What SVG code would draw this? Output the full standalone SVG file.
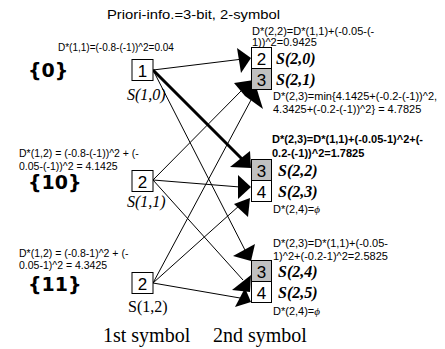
<svg xmlns="http://www.w3.org/2000/svg" width="445" height="349" viewBox="0 0 445 349">
<style>
.box{fill:#fff;stroke:#000;stroke-width:1}
.gray{fill:#c0c0c0;stroke:#000;stroke-width:1}
.dig{font-family:"Liberation Sans",Arial,sans-serif;font-size:17px;text-anchor:middle;fill:#000}
.sl{font-family:"Liberation Serif","Times New Roman",serif;font-size:16px;font-style:italic;fill:#000}
.sb{font-family:"Liberation Serif","Times New Roman",serif;font-size:16px;font-style:italic;font-weight:bold;fill:#000}
.sr{font-family:"Liberation Serif","Times New Roman",serif;font-size:16px;fill:#000}
.eq{font-family:"Liberation Sans",Arial,sans-serif;font-size:10px;fill:#000}
.eqr{font-family:"Liberation Sans",Arial,sans-serif;font-size:11px;fill:#000}
.eqb{font-family:"Liberation Sans",Arial,sans-serif;font-size:11px;font-weight:bold;fill:#000}
.set{font-family:"DejaVu Sans",Verdana,sans-serif;font-size:19px;font-weight:bold;fill:#000}
.ax{font-family:"Liberation Serif","Times New Roman",serif;font-size:20px;fill:#000}
.phi{font-family:"Liberation Serif","Times New Roman",serif;font-style:italic}
.ln{stroke:#000;stroke-width:1;fill:none}
.thick{stroke:#000;stroke-width:3;fill:none}
.ah{fill:#000;stroke:none}
</style>
<rect width="445" height="349" fill="#fff"/>
<text class="eq" x="107" y="19" style="font-size:13.5px" textLength="173" lengthAdjust="spacingAndGlyphs">Priori-info.=3-bit, 2-symbol</text>
<g id="connectors">
<line class="ln" x1="153" y1="70" x2="243" y2="59"/>
<line class="thick" x1="153" y1="70" x2="242" y2="159"/>
<line class="ln" x1="153" y1="70" x2="247" y2="254"/>
<line class="ln" x1="153" y1="180" x2="243" y2="89"/>
<line class="ln" x1="153" y1="180" x2="240" y2="187"/>
<line class="ln" x1="153" y1="180" x2="243" y2="280"/>
<line class="ln" x1="153" y1="283" x2="251" y2="100"/>
<line class="ln" x1="153" y1="283" x2="240" y2="205"/>
<line class="ln" x1="153" y1="283" x2="240" y2="298"/>
<polygon class="ah" points="237,48 251,58 241,73"/>
<polygon class="ah" points="234,83 254,80 263,109 245,96"/>
<polygon class="ah" points="230,167 250,151 251,168"/>
<polygon class="ah" points="238,175 251,187 238,199"/>
<polygon class="ah" points="234,204 250,198 248,217"/>
<polygon class="ah" points="233,256 255,244 251,261"/>
<polygon class="ah" points="232,290 251,275 250,292"/>
<polygon class="ah" points="235,307 245,288 251,302"/>
</g>
<g id="s10">
<text class="eq" x="58" y="51">D*(1,1)=(-0.8-(-1))^2=0.04</text>
<text class="set" x="28" y="77">{0}</text>
<rect class="box" x="132" y="59.5" width="21" height="21"/>
<text class="dig" x="142.5" y="76.5">1</text>
<text class="sl" x="127" y="100">S(1,0)</text>
</g>
<g id="s11">
<text class="eq" x="19" y="157" style="font-size:10.5px">D*(1,2) = (-0.8-(-1))^2 + (-</text>
<text class="eq" x="19" y="170" style="font-size:10.5px">0.05-(-1))^2 = 4.1425</text>
<text class="set" x="28" y="189">{10}</text>
<rect class="box" x="132" y="170.5" width="21" height="21"/>
<text class="dig" x="142.5" y="187.5">2</text>
<text class="sl" x="127" y="207">S(1,1)</text>
</g>
<g id="s12">
<text class="eq" x="19" y="257" style="font-size:10.5px">D*(1,2) = (-0.8-1)^2 + (-</text>
<text class="eq" x="19" y="269" style="font-size:10.5px">0.05-1)^2 = 4.3425</text>
<text class="set" x="28" y="291">{11}</text>
<rect class="box" x="132" y="272.5" width="21" height="21"/>
<text class="dig" x="142.5" y="289.5">2</text>
<text class="sr" x="128" y="312">S(1,2)</text>
</g>
<g id="s20">
<text class="eqr" x="252" y="35">D*(2,2)=D*(1,1)+(-0.05-(-</text>
<text class="eqr" x="252" y="46">1))^2=0.9425</text>
<rect class="box" x="251.5" y="47.5" width="20" height="21"/>
<text class="dig" x="261.5" y="64.5">2</text>
<text class="sb" x="276" y="64">S(2,0)</text>
</g>
<g id="s21">
<rect class="gray" x="251.5" y="68.5" width="20" height="21"/>
<text class="dig" x="261.5" y="85.5">3</text>
<text class="sb" x="276" y="85">S(2,1)</text>
<text class="eqr" x="273" y="100">D*(2,3)=min{4.1425+(-0.2-(-1))^2,</text>
<text class="eqr" x="273" y="113">4.3425+(-0.2-(-1))^2} = 4.7825</text>
</g>
<g id="s22">
<text class="eqb" x="272" y="143">D*(2,3)=D*(1,1)+(-0.05-1)^2+(-</text>
<text class="eqb" x="272" y="157">0.2-(-1))^2=1.7825</text>
<rect class="gray" x="251.5" y="159.5" width="20" height="21"/>
<text class="dig" x="261.5" y="176.5">3</text>
<text class="sb" x="278" y="176">S(2,2)</text>
</g>
<g id="s23">
<rect class="box" x="251.5" y="180.5" width="20" height="21"/>
<text class="dig" x="261.5" y="197.5">4</text>
<text class="sb" x="278" y="197">S(2,3)</text>
<text class="eqr" x="273" y="213">D*(2,4)=<tspan class="phi">ϕ</tspan></text>
</g>
<g id="s24">
<text class="eqr" x="273" y="247">D*(2,3)=D*(1,1)+(-0.05-</text>
<text class="eqr" x="273" y="260">1)^2+(-0.2-1)^2=2.5825</text>
<rect class="gray" x="251.5" y="260.5" width="20" height="21"/>
<text class="dig" x="261.5" y="277.5">3</text>
<text class="sb" x="278" y="277">S(2,4)</text>
</g>
<g id="s25">
<rect class="box" x="251.5" y="281.5" width="20" height="21"/>
<text class="dig" x="261.5" y="298.5">4</text>
<text class="sb" x="278" y="298">S(2,5)</text>
<text class="eqr" x="273" y="315">D*(2,4)=<tspan class="phi">ϕ</tspan></text>
</g>
<text class="ax" x="103" y="342">1st symbol</text>
<text class="ax" x="213" y="342">2nd symbol</text>
</svg>
